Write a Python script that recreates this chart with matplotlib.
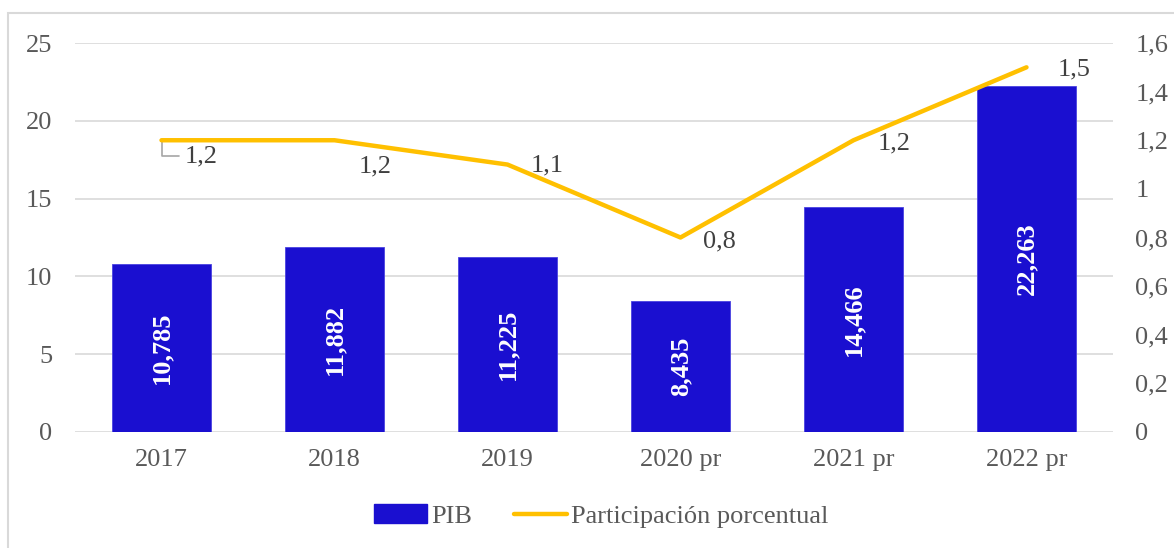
import matplotlib
matplotlib.use("Agg")
import matplotlib.pyplot as plt
from matplotlib.patches import Rectangle
from matplotlib.lines import Line2D
from matplotlib.patches import Patch

categories = ["2017", "2018", "2019", "2020 pr", "2021 pr", "2022 pr"]
pib = [10.785, 11.882, 11.225, 8.435, 14.466, 22.263]
pib_labels = ["10,785", "11,882", "11,225", "8,435", "14,466", "22,263"]
participacion = [1.2, 1.2, 1.1, 0.8, 1.2, 1.5]
part_labels = ["1,2", "1,2", "1,1", "0,8", "1,2", "1,5"]
left_ticks = [0, 5, 10, 15, 20, 25]
right_ticks = [0, 0.2, 0.4, 0.6, 0.8, 1.0, 1.2, 1.4, 1.6]
right_tick_labels = ["0", "0,2", "0,4", "0,6", "0,8", "1", "1,2", "1,4", "1,6"]

plt.rcParams["font.family"] = ["Liberation Serif", "DejaVu Serif"]
W, H = 1174, 548
fig = plt.figure(figsize=(W / 100, H / 100), dpi=100)

# outer border
fig.patches.append(Rectangle((8 / W, -0.05), 1.2, 1 - 13 / H + 0.05, transform=fig.transFigure,
                             fill=False, edgecolor="#d9d9d9", linewidth=1.5))

ax = fig.add_axes([75 / W, 1 - 432 / H, (1113 - 75) / W, (432 - 43) / H])
ax2 = ax.twinx()

BAR = "#1A0FD0"
LINE = "#FFC000"
GRAY = "#595959"
FS = 19

x = list(range(len(categories)))
ax.bar(x, pib, width=0.57, color=BAR, edgecolor="#4a42e0", linewidth=0.6, zorder=2)
for xi, v, lab in zip(x, pib, pib_labels):
    ax.text(xi, v / 2, lab, rotation=90, ha="center", va="center", color="white",
            fontsize=19, fontweight="bold", zorder=3)

ax.set_xlim(-0.5, len(categories) - 0.5)
ax.set_ylim(0, 25)
ax.set_yticks(left_ticks)
ax.set_yticklabels([str(t) for t in left_ticks])
ax.set_xticks(x)
ax.set_xticklabels(categories)
ax.grid(axis="y", color="#d9d9d9", linewidth=1.2, zorder=0)
ax.set_axisbelow(True)
for s in ax.spines.values():
    s.set_visible(False)
for s in ax2.spines.values():
    s.set_visible(False)
ax.tick_params(axis="both", length=0, labelcolor=GRAY, labelsize=FS)
ax.tick_params(axis="y", pad=16.5)
ax.tick_params(axis="x", pad=12.5)

ax2.plot(x, participacion, color=LINE, linewidth=3.2, solid_capstyle="round",
         solid_joinstyle="round", zorder=4)
ax2.set_ylim(0, 1.6)
ax2.set_yticks(right_ticks)
ax2.set_yticklabels(right_tick_labels)
ax2.tick_params(axis="y", length=0, labelcolor=GRAY, labelsize=FS, pad=16)

offsets = [(40, -16), (41, -26), (40, -1), (39, -4), (41, -3), (48, -2)]
for i, (xi, v, lab, off) in enumerate(zip(x, participacion, part_labels, offsets)):
    if i == 0:
        ax2.annotate(lab, xy=(xi, v), xytext=off, textcoords="offset pixels",
                     ha="center", va="center", fontsize=FS, color="#404040",
                     arrowprops=dict(arrowstyle="-", color="#a6a6a6", lw=1.2,
                                     connectionstyle="angle,angleA=0,angleB=90,rad=0",
                                     shrinkA=2, shrinkB=0))
    else:
        ax2.annotate(lab, xy=(xi, v), xytext=off, textcoords="offset pixels",
                     ha="center", va="center", fontsize=FS, color="#404040")

handles = [Patch(facecolor=BAR, edgecolor=BAR, label="PIB"),
           Line2D([0], [0], color=LINE, linewidth=3.2, solid_capstyle="round",
                  label="Participación porcentual")]
fig.legend(handles=handles, loc="center", bbox_to_anchor=(601 / W, 1 - 516 / H), ncol=2,
           frameon=False, fontsize=FS, labelcolor=GRAY, handlelength=2.0,
           handletextpad=0.15, columnspacing=1.6)

fig.savefig("out.png", dpi=100)
